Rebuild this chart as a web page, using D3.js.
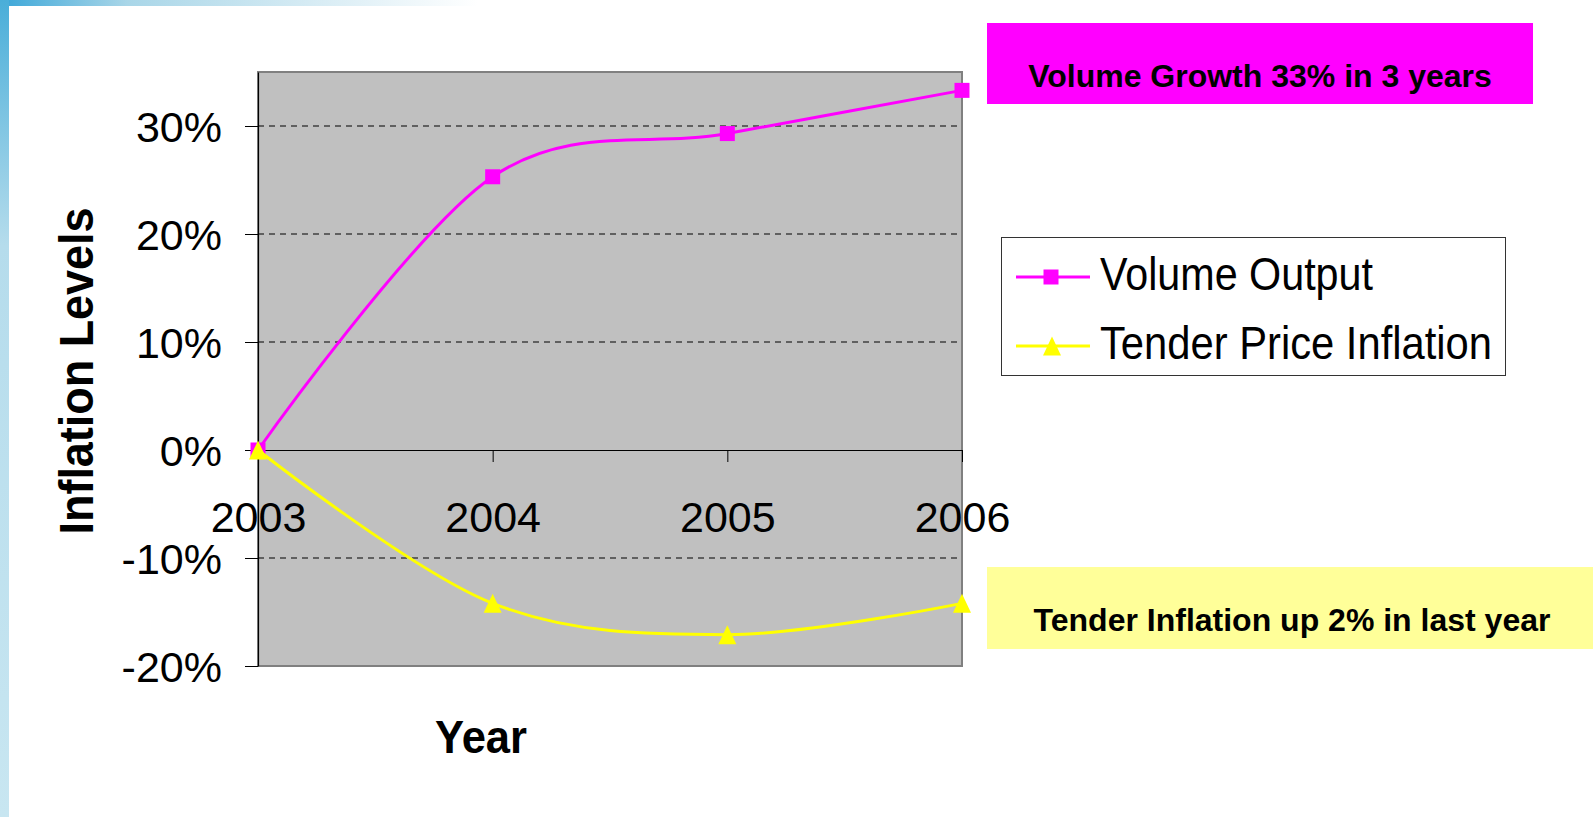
<!DOCTYPE html>
<html>
<head>
<meta charset="utf-8">
<title>Volume Output vs Tender Price Inflation</title>
<script src="https://cdn.jsdelivr.net/npm/d3@7"></script>
<style>
  html, body { margin: 0; padding: 0; background: #ffffff; overflow: hidden; }
  text { font-family: "Liberation Sans", Arial, sans-serif; }
</style>
</head>
<body>
<script>
'use strict';

// chart data
const years = [2003, 2004, 2005, 2006];
const volumeOutput = [0, 25.3, 29.3, 33.3];
const tenderInflation = [0, -14.2, -17.1, -14.2];
const yTicks = [-20, -10, 0, 10, 20, 30];
const gridValues = [-10, 10, 20, 30];
const seriesNames = ["Volume Output", "Tender Price Inflation"];
const notes = ["Volume Growth 33% in 3 years", "Tender Inflation up 2% in last year"];

(function() {

  let svgContainer = ""; // keep SVG reference in global scope

  window.onload = function() {
    svgContainer = d3.select('body')
      .append('svg')
      .attr('width', 1593)
      .attr('height', 817);

    drawBackground();
    let maps = drawAxes();
    plotData(maps);
    makeLabels();
    makeLegend();
    makeNotes();
  }

  // slide edge (blue picture strip top and left) and white panel
  function drawBackground() {
    let defs = svgContainer.append('defs');
    let top = defs.append('linearGradient').attr('id', 'topStrip');
    top.append('stop').attr('offset', '0%').attr('stop-color', '#3aa6d8');
    top.append('stop').attr('offset', '8%').attr('stop-color', '#a9d6e8');
    top.append('stop').attr('offset', '30%').attr('stop-color', '#ffffff');
    let left = defs.append('linearGradient').attr('id', 'leftStrip')
      .attr('x1', 0).attr('y1', 0).attr('x2', 0).attr('y2', 1);
    left.append('stop').attr('offset', '0%').attr('stop-color', '#4aaed9');
    left.append('stop').attr('offset', '30%').attr('stop-color', '#b5dcec');
    left.append('stop').attr('offset', '100%').attr('stop-color', '#c8e6f1');

    svgContainer.append('rect')
      .attr('width', 1593).attr('height', 6)
      .attr('fill', 'url(#topStrip)');
    svgContainer.append('rect')
      .attr('width', 9).attr('height', 817)
      .attr('fill', 'url(#leftStrip)');
  }

  // draw plot area, grid and axes
  function drawAxes() {
    let xScale = d3.scalePoint()
      .domain(years)
      .range([258, 962]);

    let yScale = d3.scaleLinear()
      .domain([-20, 35])
      .range([666, 72]);

    // grey plot area
    svgContainer.append('rect')
      .attr('x', xScale.range()[0])
      .attr('y', yScale(35))
      .attr('width', xScale.range()[1] - xScale.range()[0])
      .attr('height', yScale(-20) - yScale(35))
      .attr('fill', '#c0c0c0')
      .attr('stroke', '#808080')
      .attr('stroke-width', 2);

    // dashed gridlines
    svgContainer.append('g')
      .selectAll('line')
      .data(gridValues)
      .enter()
      .append('line')
        .attr('x1', xScale.range()[0])
        .attr('x2', xScale.range()[1])
        .attr('y1', (d) => yScale(d))
        .attr('y2', (d) => yScale(d))
        .attr('stroke', '#000')
        .attr('stroke-width', 1)
        .attr('stroke-dasharray', '6,5');

    // y-axis on the left
    let yAxis = d3.axisLeft(yScale)
      .tickValues(yTicks)
      .tickFormat((d) => d + '%')
      .tickSize(13)
      .tickSizeOuter(0)
      .tickPadding(23);
    let yG = svgContainer.append('g')
      .attr('transform', 'translate(' + xScale.range()[0] + ', 0)')
      .call(yAxis);
    yG.select('.domain').attr('stroke', '#000').attr('stroke-width', 1.2);
    yG.selectAll('text')
      .attr('font-size', '43px')
      .attr('fill', '#000')
      .attr('dy', '0.36em');

    // x-axis through 0%
    let xAxis = d3.axisBottom(xScale)
      .tickSize(12)
      .tickSizeOuter(0);
    let xG = svgContainer.append('g')
      .attr('transform', 'translate(0, ' + yScale(0) + ')')
      .call(xAxis);
    xG.select('.domain').attr('stroke', '#000').attr('stroke-width', 1.2);
    xG.selectAll('text')
      .attr('font-size', '43px')
      .attr('fill', '#000')
      .attr('y', 82)
      .attr('dy', 0);

    return { x: xScale, y: yScale };
  }

  // smoothed lines with markers
  function plotData(map) {
    let xMap = map.x;
    let yMap = map.y;

    let line = d3.line()
      .x((d) => xMap(d.year))
      .y((d) => yMap(d.value))
      .curve(d3.curveCatmullRom.alpha(0));

    let volumeRows = years.map((y, i) => ({ year: y, value: volumeOutput[i] }));
    let tenderRows = years.map((y, i) => ({ year: y, value: tenderInflation[i] }));

    svgContainer.append('path')
      .attr('d', line(volumeRows))
      .attr('fill', 'none')
      .attr('stroke', '#ff00ff')
      .attr('stroke-width', 3);

    svgContainer.append('g')
      .selectAll('rect')
      .data(volumeRows)
      .enter()
      .append('rect')
        .attr('x', (d) => xMap(d.year) - 7.5)
        .attr('y', (d) => yMap(d.value) - 7.5)
        .attr('width', 15)
        .attr('height', 15)
        .attr('fill', '#ff00ff');

    svgContainer.append('path')
      .attr('d', line(tenderRows))
      .attr('fill', 'none')
      .attr('stroke', '#ffff00')
      .attr('stroke-width', 3);

    svgContainer.append('g')
      .selectAll('path')
      .data(tenderRows)
      .enter()
      .append('path')
        .attr('d', (d) => triangle(xMap(d.year), yMap(d.value)))
        .attr('fill', '#ffff00');
  }

  function triangle(cx, cy) {
    return 'M' + cx + ',' + (cy - 9.5) + 'L' + (cx + 9) + ',' + (cy + 9.5) +
      'L' + (cx - 9) + ',' + (cy + 9.5) + 'Z';
  }

  // axis titles
  function makeLabels() {
    svgContainer.append('text')
      .attr('transform', 'translate(93, 371)rotate(-90)')
      .attr('text-anchor', 'middle')
      .attr('font-size', '48px')
      .attr('font-weight', 'bold')
      .attr('textLength', 327)
      .attr('lengthAdjust', 'spacingAndGlyphs')
      .text("Inflation Levels");

    svgContainer.append('text')
      .attr('x', 481)
      .attr('y', 753)
      .attr('text-anchor', 'middle')
      .attr('font-size', '46px')
      .attr('font-weight', 'bold')
      .attr('textLength', 92)
      .attr('lengthAdjust', 'spacingAndGlyphs')
      .text('Year');
  }

  function makeLegend() {
    let legend = svgContainer.append('g');
    legend.append('rect')
      .attr('x', 1001.5)
      .attr('y', 237.5)
      .attr('width', 504)
      .attr('height', 138)
      .attr('fill', '#fff')
      .attr('stroke', '#333')
      .attr('stroke-width', 1);

    let rowY = [277, 346];
    let colours = ['#ff00ff', '#ffff00'];
    let widths = [273, 392];

    seriesNames.forEach((name, i) => {
      legend.append('line')
        .attr('x1', 1016).attr('x2', 1090)
        .attr('y1', rowY[i]).attr('y2', rowY[i])
        .attr('stroke', colours[i])
        .attr('stroke-width', 3);
      if (i == 0) {
        legend.append('rect')
          .attr('x', 1051 - 7.5).attr('y', rowY[i] - 7.5)
          .attr('width', 15).attr('height', 15)
          .attr('fill', colours[i]);
      } else {
        legend.append('path')
          .attr('d', triangle(1052, rowY[i]))
          .attr('fill', colours[i]);
      }
      legend.append('text')
        .attr('x', 1100)
        .attr('y', rowY[i] + 13)
        .attr('font-size', '46px')
        .attr('textLength', widths[i])
        .attr('lengthAdjust', 'spacingAndGlyphs')
        .text(name);
    });
  }

  // coloured call-out boxes
  function makeNotes() {
    svgContainer.append('rect')
      .attr('x', 987).attr('y', 23)
      .attr('width', 546).attr('height', 81)
      .attr('fill', '#ff00ff');
    svgContainer.append('text')
      .attr('x', 1260).attr('y', 87)
      .attr('text-anchor', 'middle')
      .attr('font-size', '32px')
      .attr('font-weight', 'bold')
      .text(notes[0]);

    svgContainer.append('rect')
      .attr('x', 987).attr('y', 567)
      .attr('width', 606).attr('height', 82)
      .attr('fill', '#ffff99');
    svgContainer.append('text')
      .attr('x', 1292).attr('y', 631)
      .attr('text-anchor', 'middle')
      .attr('font-size', '32px')
      .attr('font-weight', 'bold')
      .text(notes[1]);
  }

})();
</script>
</body>
</html>
